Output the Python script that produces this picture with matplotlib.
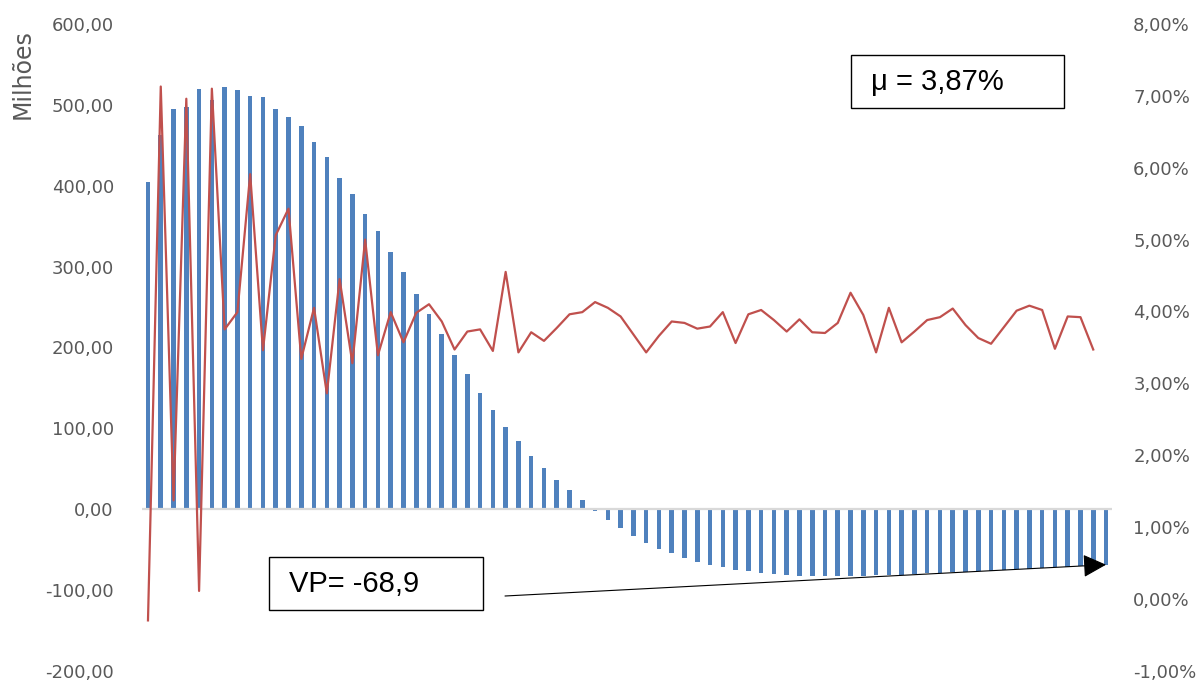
import matplotlib
matplotlib.use("Agg")
import matplotlib.pyplot as plt
from matplotlib.patches import Rectangle
from matplotlib.ticker import FuncFormatter
import numpy as np

# fluxo acumulado (milhões) por período
saldo = [404, 463, 495, 497, 520, 506, 522, 518, 511, 510,
         495, 485, 474, 454, 435, 410, 390, 365, 344, 318,
         293, 266, 241, 216, 191, 167, 144, 122, 102, 84,
         66, 51, 36, 23, 11, -3, -14, -24, -33, -42,
         -49, -55, -60, -65, -69, -72, -75, -77, -79,
         -80.4, -81.7, -82.5, -83.3, -83.3, -83.3, -82.9, -82.5, -82.1, -81.7,
         -81.3, -80.4, -79.6, -79.2, -78.4, -77.6, -77.1, -76.3, -75.5, -74.7,
         -73.8, -73.0, -72.2, -71.4, -70.1, -69.3, -68.9]

# taxa por período (%)
taxa = [-0.30, 7.13, 1.37, 6.96, 0.11, 7.10, 3.75, 3.99, 5.91, 3.46,
        5.06, 5.43, 3.34, 4.05, 2.86, 4.45, 3.28, 5.00, 3.39, 3.99,
        3.57, 3.98, 4.10, 3.86, 3.47, 3.72, 3.75, 3.45, 4.55, 3.43,
        3.71, 3.59, 3.77, 3.96, 3.99, 4.13, 4.05, 3.93, 3.68, 3.43,
        3.66, 3.86, 3.84, 3.76, 3.79, 3.99, 3.56, 3.96, 4.02, 3.88,
        3.72, 3.89, 3.71, 3.70, 3.84, 4.26, 3.95, 3.43, 4.05, 3.57,
        3.72, 3.88, 3.92, 4.04, 3.81, 3.63, 3.55, 3.78, 4.01, 4.08,
        4.02, 3.48, 3.93, 3.92, 3.47]

media_txt = "μ = 3,87%"
vp = saldo[-1]

W, H = 1202, 681
fig = plt.figure(figsize=(W / 100, H / 100), dpi=100)
ax = fig.add_axes([141.6 / W, 1 - 670.7 / H, 970.8 / W, 646.7 / H])
ax2 = ax.twinx()

xb = np.arange(len(saldo))
xl = np.arange(len(taxa))

ax.bar(xb, saldo, width=0.36, color="#4f81bd", zorder=2)
ax.axhline(0, color="#d9d9d9", lw=1.6, zorder=3)
ax2.plot(xl, taxa, color="#c0504d", lw=1.6, zorder=4)

ax.set_xlim(-0.5, len(saldo) - 0.5)
ax.set_ylim(-200, 600)
ax.set_yticks(np.arange(-200, 601, 100))
ax2.set_ylim(-1, 8)
ax2.set_yticks(np.arange(-1, 9, 1))

ax.yaxis.set_major_formatter(FuncFormatter(lambda v, p: f"{v:.2f}".replace(".", ",")))
ax2.yaxis.set_major_formatter(FuncFormatter(lambda v, p: f"{v:.2f}%".replace(".", ",")))

for a in (ax, ax2):
    for s in a.spines.values():
        s.set_visible(False)
    a.set_xticks([])
ax.tick_params(axis="y", length=0, pad=20, labelsize=13, labelcolor="#595959")
ax2.tick_params(axis="y", length=0, pad=15, labelsize=13, labelcolor="#595959")

fig.text(23 / W, 1 - 74 / H, "Milhões", rotation=90, ha="center", va="center",
         fontsize=17, color="#595959", family="Liberation Sans Narrow")

# caixas de texto
def caixa(x0, y0, x1, y1, texto, tx):
    fig.add_artist(Rectangle((x0 / W, 1 - y1 / H), (x1 - x0) / W, (y1 - y0) / H,
                             transform=fig.transFigure, fill=True, facecolor="white",
                             edgecolor="black", lw=1.0, zorder=5))
    fig.text(tx / W, 1 - (y0 + y1) / 2 / H, texto, ha="left", va="center",
             fontsize=21, family="Liberation Sans", zorder=6)

caixa(851, 55, 1064, 108, media_txt, 871)
caixa(269, 557, 483, 610, f"VP= {vp:.1f}".replace(".", ","), 289)

ax.annotate("", xy=(xb[-1], vp), xycoords="data",
            xytext=(505 / W, 1 - 596 / H), textcoords="figure fraction",
            arrowprops=dict(arrowstyle="-|>", mutation_scale=36, lw=0.8,
                            color="black", shrinkA=0, shrinkB=0),
            zorder=6)

fig.savefig("out.png", dpi=100)
